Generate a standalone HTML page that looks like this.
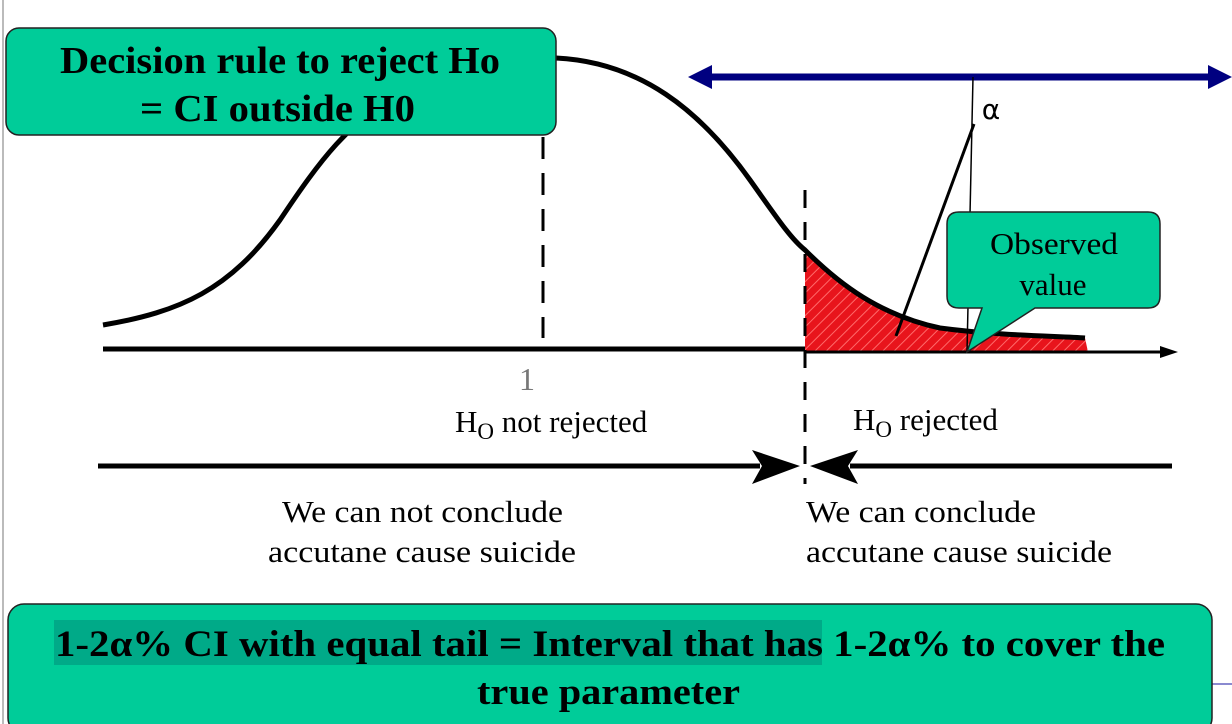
<!DOCTYPE html>
<html><head><meta charset="utf-8"><style>
html,body{margin:0;padding:0;background:#fff;width:1232px;height:724px;overflow:hidden}
svg{display:block}
text{font-family:"Liberation Serif",serif}
</style></head><body>
<svg width="1232" height="724" viewBox="0 0 1232 724">
<defs>
<pattern id="hatch" width="8" height="8" patternUnits="userSpaceOnUse" patternTransform="rotate(45)">
<rect width="8" height="8" fill="#e8141c"/><line x1="0" y1="0" x2="0" y2="8" stroke="#ff6a6a" stroke-width="2"/>
</pattern>
</defs>
<line x1="3" y1="0" x2="3" y2="724" stroke="#bbb" stroke-width="2"/>
<line x1="1212" y1="684" x2="1232" y2="684" stroke="#8a8ad0" stroke-width="2"/>

<path d="M805,250 C840,285 880,315 940,328 C1000,336 1060,336 1085,338 L1088,352 L805,352 Z" fill="url(#hatch)"/>

<path d="M103,325 C180,312 230,290 280,220 C320,160 350,120 400,95 C450,65 500,58 556,58 C640,62 700,110 750,180 C775,215 790,238 805,250 C840,285 880,315 940,328 C1000,336 1060,336 1085,338" fill="none" stroke="#000" stroke-width="5"/>

<line x1="103" y1="349" x2="805" y2="349" stroke="#000" stroke-width="5"/>
<line x1="805" y1="352" x2="1162" y2="352" stroke="#000" stroke-width="3"/>
<polygon points="1160,346 1178,352 1160,358" fill="#000"/>

<line x1="543" y1="137" x2="543" y2="338" stroke="#000" stroke-width="3" stroke-dasharray="22,14"/>
<line x1="805" y1="190" x2="805" y2="484" stroke="#000" stroke-width="3" stroke-dasharray="18,14"/>
<text x="527" y="390" font-size="32" fill="#777" text-anchor="middle">1</text>

<line x1="705" y1="77" x2="1214" y2="77" stroke="#000080" stroke-width="7"/>
<polygon points="688,77 712,65 712,89" fill="#000080"/>
<polygon points="1232,77 1208,65 1208,89" fill="#000080"/>
<line x1="973" y1="77" x2="967" y2="352" stroke="#000" stroke-width="1.5"/>
<line x1="974" y1="124" x2="896" y2="336" stroke="#000" stroke-width="3"/>
<text x="991" y="119" style="font-family:'DejaVu Sans',sans-serif;font-size:28px;font-weight:500" text-anchor="middle">α</text>

<path d="M959,212 H1148 Q1160,212 1160,224 V296 Q1160,308 1148,308 H1035 L967,352 L982,308 H959 Q947,308 947,296 V224 Q947,212 959,212 Z" fill="#00cc99" stroke="#222" stroke-width="1.5"/>
<text x="990" y="254" font-size="31" textLength="128" lengthAdjust="spacingAndGlyphs">Observed</text>
<text x="1053" y="295" font-size="31" text-anchor="middle">value</text>

<text x="455" y="432" font-size="31">H<tspan font-size="23" dy="7">O</tspan><tspan dy="-7"> not rejected</tspan></text>
<text x="853" y="430" font-size="31">H<tspan font-size="23" dy="7">O</tspan><tspan dy="-7"> rejected</tspan></text>

<line x1="98" y1="466" x2="760" y2="466" stroke="#000" stroke-width="5"/>
<polygon points="752,450 800,466 752,484 762,466" fill="#000"/>
<line x1="850" y1="466" x2="1172" y2="466" stroke="#000" stroke-width="5"/>
<polygon points="858,450 810,466 858,484 848,466" fill="#000"/>

<text x="282" y="522" font-size="31" textLength="281" lengthAdjust="spacingAndGlyphs">We can not conclude</text>
<text x="268" y="562" font-size="31" textLength="308" lengthAdjust="spacingAndGlyphs">accutane cause suicide</text>
<text x="806" y="522" font-size="31" textLength="230" lengthAdjust="spacingAndGlyphs">We can conclude</text>
<text x="806" y="562" font-size="31" textLength="306" lengthAdjust="spacingAndGlyphs">accutane cause suicide</text>

<rect x="6" y="28" width="550" height="107" rx="13" fill="#00cc99" stroke="#222" stroke-width="1.5"/>
<text x="60" y="73" font-size="38" font-weight="bold" textLength="440" lengthAdjust="spacingAndGlyphs">Decision rule to reject Ho</text>
<text x="140" y="121" font-size="38" font-weight="bold" textLength="275" lengthAdjust="spacingAndGlyphs">= CI outside H0</text>

<rect x="8" y="604" width="1204" height="130" rx="16" fill="#00cc99" stroke="#222" stroke-width="1.5"/>
<rect x="54" y="620" width="768" height="45" fill="#00aa88"/>
<text x="55" y="656" font-size="37" font-weight="bold" textLength="1110" lengthAdjust="spacingAndGlyphs">1-2α% CI with equal tail = Interval that has 1-2α% to cover the</text>
<text x="477" y="704" font-size="37" font-weight="bold" textLength="263" lengthAdjust="spacingAndGlyphs">true parameter</text>
</svg>
</body></html>
